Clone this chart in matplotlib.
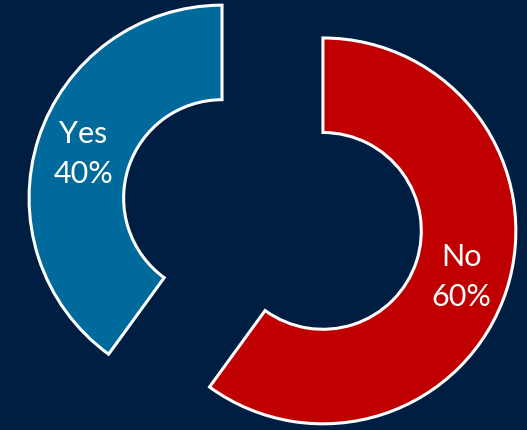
import matplotlib.pyplot as plt
import numpy as np

labels = ["No", "Yes"]
shares = [60, 40]
colors = ["#C00000", "#006A9C"]
bg = "#001D42"

fig = plt.figure(figsize=(5.27, 4.31), dpi=100, facecolor=bg)
ax = fig.add_axes([0, 0, 1, 1])
ax.set_facecolor(bg)

wedges, _ = ax.pie(
    shares,
    colors=colors,
    startangle=90,
    counterclock=False,
    explode=[0.275, 0.275],
    radius=1.0,
    wedgeprops=dict(width=0.49, edgecolor="white", linewidth=2.2, joinstyle="miter"),
)

# labels in the middle of each ring segment
for w, lab, val in zip(wedges, labels, shares):
    mid = np.deg2rad((w.theta1 + w.theta2) / 2)
    cx, cy = w.center
    x = cx + 0.755 * np.cos(mid)
    y = cy + 0.755 * np.sin(mid)
    ax.text(x, y, f"{lab}\n{val}%", ha="center", va="center", color="white",
            fontsize=22, family="Lato", fontweight="normal", linespacing=1.5)

ax.set_aspect("equal")
ax.set_xlim(-1.412, 1.319)
ax.set_ylim(-1.117, 1.117)
ax.axis("off")

fig.savefig("out.png", dpi=100, facecolor=bg)
